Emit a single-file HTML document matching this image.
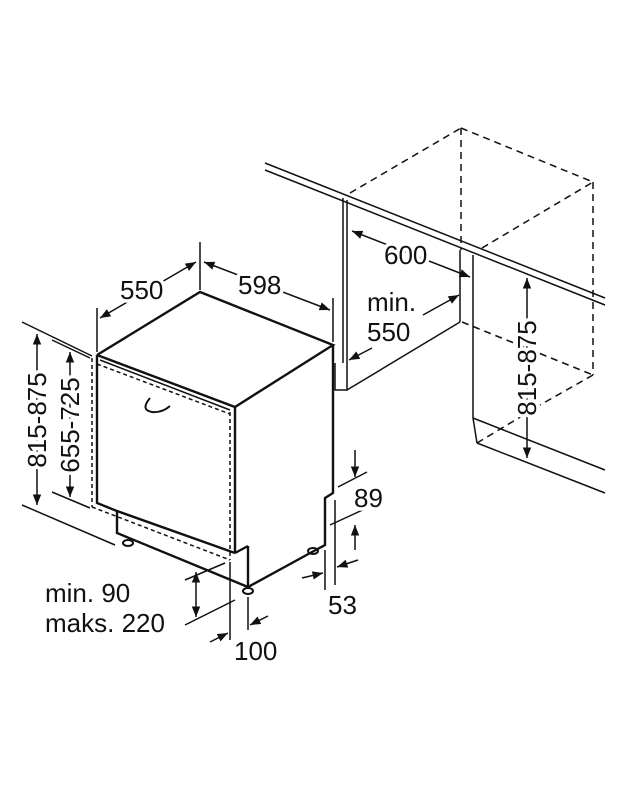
<!DOCTYPE html>
<html><head><style>html,body{margin:0;padding:0;background:#fff;}svg{display:block}</style></head>
<body>
<svg width="625" height="794" viewBox="0 0 625 794" xmlns="http://www.w3.org/2000/svg">
<defs>
<marker id="a" viewBox="0 0 10 10" refX="10" refY="5" markerWidth="7" markerHeight="7" orient="auto-start-reverse"><path d="M0,1 L10,5 L0,9 Z" fill="#111"/></marker>
</defs>
<g fill="none" stroke="#111" stroke-width="1.5">
<!-- right cabinet -->
<line x1="265" y1="163" x2="605" y2="298"/>
<line x1="265" y1="170" x2="605" y2="305"/>
<line x1="343" y1="198" x2="343" y2="363"/>
<line x1="347" y1="200" x2="347" y2="363"/>
<polyline points="335,363 335,390 347,390 347,363"/>
<line x1="347" y1="390" x2="460" y2="322"/>
<line x1="460" y1="250" x2="460" y2="322"/>
<line x1="473" y1="255" x2="473" y2="418"/>
<line x1="473" y1="418" x2="605" y2="470"/>
<line x1="477" y1="443" x2="605" y2="493"/>
<line x1="473" y1="418" x2="477" y2="443"/>
<g stroke-dasharray="7,5">
<line x1="350" y1="193" x2="461" y2="128"/>
<line x1="461" y1="128" x2="461" y2="250"/>
<line x1="461" y1="128" x2="593" y2="182"/>
<line x1="593" y1="182" x2="593" y2="375"/>
<line x1="482" y1="248" x2="593" y2="182"/>
<line x1="462" y1="322" x2="593" y2="375"/>
<line x1="593" y1="375" x2="540" y2="405"/>
<line x1="477" y1="443" x2="527" y2="413"/>
</g>
<!-- dishwasher -->
<g stroke-width="2.4">
<polyline points="97,355 200,292 333,345 235,407 97,355"/>
<polyline points="97,355 97,503 117,511 117,533 248,587 312,552 325,545 325,498 333,493 333,345"/>
<line x1="235" y1="407" x2="235" y2="553"/>
<line x1="235" y1="553" x2="248" y2="546"/>
<line x1="248" y1="546" x2="248" y2="587"/>
<line x1="117" y1="511" x2="235" y2="553"/>
</g>
<line x1="100" y1="360" x2="230" y2="410"/>
<path d="M150,398 Q140,410 152,412 Q162,413 170,406" stroke-width="2"/>
<g stroke-dasharray="4,3">
<line x1="92" y1="358" x2="92" y2="507"/>
<line x1="92" y1="507" x2="230" y2="560"/>
<line x1="230" y1="412" x2="230" y2="560"/>
<line x1="97" y1="364" x2="230" y2="414"/>
</g>
<ellipse cx="128" cy="543" rx="5" ry="3" stroke-width="2"/>
<ellipse cx="248" cy="591" rx="5" ry="3" stroke-width="2"/>
<ellipse cx="313" cy="551" rx="5" ry="3" stroke-width="2"/>
<!-- dims top -->
<line x1="97" y1="308" x2="97" y2="352"/>
<line x1="200" y1="242" x2="200" y2="290"/>
<line x1="333" y1="298" x2="333" y2="342"/>
<line x1="100" y1="318" x2="196" y2="262" marker-start="url(#a)" marker-end="url(#a)"/>
<line x1="204" y1="262" x2="330" y2="310" marker-start="url(#a)" marker-end="url(#a)"/>
<!-- left dims -->
<line x1="22" y1="322" x2="92" y2="356"/>
<line x1="22" y1="505" x2="115" y2="545"/>
<line x1="52" y1="340" x2="90" y2="358"/>
<line x1="52" y1="492" x2="90" y2="508"/>
<line x1="37" y1="334" x2="37" y2="505" marker-start="url(#a)" marker-end="url(#a)"/>
<line x1="70" y1="352" x2="70" y2="497" marker-start="url(#a)" marker-end="url(#a)"/>
<!-- right dims -->
<line x1="352" y1="231" x2="470" y2="277" marker-start="url(#a)" marker-end="url(#a)"/>
<line x1="423" y1="315" x2="459" y2="295" marker-end="url(#a)"/>
<line x1="372" y1="348" x2="349" y2="360" marker-end="url(#a)"/>
<line x1="527" y1="278" x2="527" y2="458" marker-start="url(#a)" marker-end="url(#a)"/>
<!-- 89 / 53 -->
<line x1="355" y1="450" x2="355" y2="477" marker-end="url(#a)"/>
<line x1="338" y1="487" x2="367" y2="472"/>
<line x1="330" y1="525" x2="367" y2="508"/>
<line x1="355" y1="550" x2="355" y2="525" marker-end="url(#a)"/>
<line x1="335" y1="500" x2="335" y2="585"/>
<line x1="325" y1="550" x2="325" y2="590"/>
<line x1="302" y1="578" x2="323" y2="573" marker-end="url(#a)"/>
<line x1="358" y1="560" x2="337" y2="567" marker-end="url(#a)"/>
<!-- min90 / 100 -->
<line x1="185" y1="580" x2="225" y2="563"/>
<line x1="185" y1="625" x2="235" y2="600"/>
<line x1="196" y1="572" x2="196" y2="617" marker-start="url(#a)" marker-end="url(#a)"/>
<line x1="230" y1="562" x2="230" y2="640"/>
<line x1="248" y1="597" x2="248" y2="630"/>
<line x1="210" y1="642" x2="228" y2="633" marker-end="url(#a)"/>
<line x1="268" y1="616" x2="250" y2="625" marker-end="url(#a)"/>
</g>
<g font-family="Liberation Sans, sans-serif" font-size="26" fill="#111" stroke="#fff" stroke-width="7" paint-order="stroke" stroke-linejoin="round">
<text x="120" y="299">550</text>
<text x="238" y="294">598</text>
<text x="384" y="264">600</text>
<text x="367" y="311">min.</text>
<text x="367" y="341">550</text>
<text x="354" y="507">89</text>
<text x="328" y="614">53</text>
<text x="234" y="660">100</text>
<text x="45" y="602">min. 90</text>
<text x="45" y="632">maks. 220</text>
<text transform="translate(46,420) rotate(-90)" text-anchor="middle">815-875</text>
<text transform="translate(79,425) rotate(-90)" text-anchor="middle">655-725</text>
<text transform="translate(536,368) rotate(-90)" text-anchor="middle">815-875</text>
</g>
</svg>
</body></html>
